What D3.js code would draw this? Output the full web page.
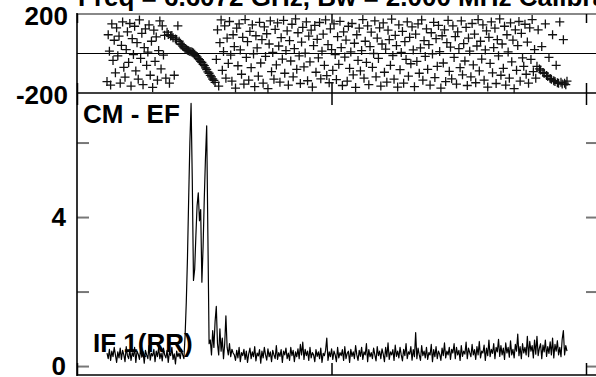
<!DOCTYPE html>
<html><head><meta charset="utf-8">
<script src="https://cdn.jsdelivr.net/npm/d3@7"></script>
<style>
body{margin:0;background:#fff;overflow:hidden}
svg{display:block}
</style>
</head><body>
<svg id="chart" width="596" height="377"></svg>
<script>
// ---------- data ----------
const titleText = "Freq = 6.6072 GHz, Bw = 2.000 MHz  Calibrator";
const panelLabelTop = "CM - EF";
const panelLabelBottom = "IF 1(RR)";
const phaseTicks = [200, -200];
const phaseTickLabels = ["200", "-200"];
const ampTicks = [0, 2, 4, 6];
const ampTickLabels = ["0", "", "4", ""];
const xTicks = [0, 1, 2];
const chanStart = 0.1179;
const chanStep = 0.004719;

const amplitude = [
0.35,0.2,0.45,0.15,0.4,0.25,0.5,0.3,0.1,0.38,
0.22,0.48,0.18,0.42,0.3,0.12,0.52,0.28,0.2,0.44,
0.15,0.36,0.26,0.5,0.1,0.4,0.32,0.18,0.46,0.24,
0.38,0.08,0.42,0.3,0.2,0.55,0.16,0.34,0.27,0.45,
0.12,0.4,0.25,0.5,0.2,0.35,0.14,0.48,0.3,0.22,
0.42,0.1,0.38,0.28,0.5,0.18,0.33,0.06,0.4,0.25,
0.35,0.2,0.45,0.3,0.2,0.8,1.7,2.9,4.5,6.0,
7.05,5.0,2.3,2.6,3.5,4.3,4.65,3.9,4.2,2.25,
3.2,4.5,5.6,6.45,3.5,0.6,0.7,0.3,0.95,0.5,
1.2,1.6,0.6,0.3,1.0,0.4,0.75,0.2,0.6,1.35,
0.5,0.3,0.6,0.25,0.45,0.35,
0.3,0.15,0.42,0.22,0.5,0.12,0.36,0.28,0.45,0.18,0.4,0.1,0.33,0.48,0.2,0.38,0.25,0.52,0.14,0.35,
0.27,0.44,0.08,0.4,0.22,0.5,0.3,0.16,0.46,0.25,0.38,0.12,0.42,0.3,0.2,0.55,0.18,0.36,0.26,0.44,
0.1,0.4,0.3,0.48,0.2,0.35,0.15,0.5,0.28,0.42,0.12,0.38,0.25,0.46,0.2,0.58,0.3,0.64,0.18,0.45,
0.28,0.4,0.15,0.5,0.22,0.36,0.3,0.12,0.44,0.26,0.38,0.2,0.48,0.1,0.34,0.28,0.42,0.75,0.15,0.38,
0.25,0.46,0.18,0.4,0.3,0.12,0.5,0.22,0.36,0.28,0.44,0.15,0.52,0.2,0.34,0.4,0.1,0.45,0.26,0.38,
0.2,0.55,0.3,0.15,0.42,0.26,0.5,0.18,0.38,0.3,0.6,0.12,0.44,0.25,0.36,0.2,0.48,0.3,0.14,0.52,
0.28,0.4,0.2,0.46,0.32,0.12,0.5,0.25,0.62,0.18,0.38,0.3,0.44,0.15,0.56,0.26,0.4,0.22,0.5,0.3,
0.14,0.45,0.28,0.6,0.2,0.38,0.32,0.52,0.16,0.44,0.25,0.9,0.2,0.48,0.3,0.15,0.55,0.28,0.4,0.22,
0.5,0.18,0.36,0.3,0.58,0.12,0.44,0.25,0.52,0.2,0.4,0.32,0.15,0.48,0.28,0.62,0.22,0.4,0.3,0.5,
0.18,0.45,0.35,0.6,0.2,0.5,0.3,0.42,0.15,0.55,0.26,0.4,0.32,0.64,0.2,0.48,0.36,0.25,0.58,0.3,
0.44,0.18,0.52,0.3,0.66,0.22,0.4,0.35,0.56,0.15,0.48,0.28,0.7,0.25,0.45,0.34,0.6,0.2,0.5,0.38,
0.72,0.26,0.55,0.3,0.48,0.18,0.62,0.35,0.5,0.24,0.68,0.3,0.45,0.22,0.58,0.4,0.86,0.28,0.52,0.2,
0.6,0.35,0.5,0.3,0.8,0.25,0.66,0.4,0.55,0.22,0.7,0.32,0.8,0.28,0.48,0.6,0.2,0.56,0.38,0.7,
0.26,0.52,0.34,0.65,0.3,0.75,0.22,0.58,0.4,0.68,0.3,0.5,0.25,0.72,0.95,0.3,0.55,0.4
];

const phase = [
-142,95,12,-160,150,-35,67,-98,130,-12,88,-150,41,160,-70,-120,20,110,-45,152,
-165,75,-5,138,-88,55,-130,170,-25,102,-158,30,125,-60,7,145,-110,62,-172,118,
-40,84,-135,15,165,-78,140,-8,92,-125,
108,96,-150,88,91,80,-110,73,71,140,62,48,45,37,33,24,22,16,14,10,
9,6,2,-4,-11,-17,-26,-31,-40,-45,-55,-61,-73,-81,-93,-100,-111,-118,-129,-136,-146,
-30,120,-165,55,170,-85,10,140,-125,78,-50,162,-8,-140,95,35,-175,128,-62,150,
18,-105,82,-155,172,-20,60,-135,112,-72,145,-2,-168,90,28,-115,158,-48,70,-150,
135,-15,100,-178,48,165,-92,5,-130,122,-58,155,38,-145,80,-28,168,-100,15,115,
-160,65,-38,148,-118,25,175,-80,105,-12,-152,58,132,-68,2,160,-138,88,-42,118,
-170,40,142,-95,72,-22,157,-128,12,98,-60,170,-112,45,-148,125,20,-85,150,-5,
-132,85,-55,163,30,-162,110,-18,68,-140,138,-75,8,152,-108,52,-172,95,-35,128,
-88,15,172,-125,62,-45,140,-158,35,108,-70,0,165,-118,78,-25,130,-165,48,155,
-95,22,-145,118,70,-60,174,-10,-130,92,40,-170,145,-82,5,112,-150,60,-30,160,
-115,82,-52,135,18,-168,98,-40,150,-100,28,170,-135,65,-15,125,-80,45,-160,105,
-2,158,-122,75,-65,142,10,-175,90,-48,120,-142,55,168,-90,32,-128,140,-20,85,
-155,110,25,-72,165,-108,50,-38,132,-162,78,12,-118,152,-58,98,-148,38,172,-88,
62,-28,145,-135,18,115,-170,82,-50,160,-98,30,128,-152,70,-12,175,-110,48,-75,
138,-160,95,8,-125,155,-42,68,-178,120,-85,40,162,-140,102,-22,-65,148,-105,58,
-150,130,-30,172,-92,20,-125,
-65,120,-78,-84,35,-96,-100,150,-111,-117,-20,-126,-131,95,-138,-142,-60,-148,-151,160,
-146,-155,70,-150,-158,-140
];

// ---------- layout ----------
const svg = d3.select("#chart");
const FONT = "'Liberation Sans', Arial, Helvetica, sans-serif";
const fs = 26;
const left = 77, right = 599;
const x = d3.scaleLinear().domain([0, 2]).range([77, 586]);
const yPh = d3.scaleLinear().domain([-200, 200]).range([93, 14]);
const yAmp = d3.scaleLinear().domain([-0.24, 7.33]).range([375, 93]);
const chanX = i => x(chanStart + i * chanStep);

// title (cut at top edge)
svg.append("text").attr("x", 78).attr("y", 6)
  .attr("font-family", FONT).attr("font-weight", "bold").attr("font-size", fs)
  .text(titleText);

// ---- top panel lines ----
svg.append("line").attr("x1", left).attr("x2", right).attr("y1", yPh(200)).attr("y2", yPh(200))
  .attr("stroke", "#888").attr("stroke-width", 2);
svg.append("line").attr("x1", left).attr("x2", right).attr("y1", yPh(0)).attr("y2", yPh(0))
  .attr("stroke", "#000").attr("stroke-width", 1.2);
svg.append("line").attr("x1", left).attr("x2", right).attr("y1", yPh(-200)).attr("y2", yPh(-200))
  .attr("stroke", "#000").attr("stroke-width", 1.6);

// top panel y labels via axis
const phAxis = svg.append("g").attr("transform", `translate(${left},0)`)
  .call(d3.axisLeft(yPh).tickValues(phaseTicks).tickSize(0).tickPadding(9)
    .tickFormat((d, i) => phaseTickLabels[i]));
phAxis.select(".domain").remove();
phAxis.selectAll("text").attr("font-family", FONT).attr("font-weight", "bold")
  .attr("font-size", fs).attr("fill", "#000").attr("dy", "0.42em");

// top panel x ticks
const phXTop = svg.append("g").attr("transform", `translate(0,${yPh(200)})`)
  .call(d3.axisBottom(x).tickValues(xTicks).tickSize(9).tickFormat(""));
phXTop.select(".domain").remove();
phXTop.selectAll("line").attr("stroke", "#000").attr("stroke-width", 1.5);
const phXBot = svg.append("g").attr("transform", `translate(0,${yPh(-200)})`)
  .call(d3.axisTop(x).tickValues(xTicks).tickSize(10).tickFormat(""));
phXBot.select(".domain").remove();
phXBot.selectAll("line").attr("stroke", "#000").attr("stroke-width", 1.5);

// phase points
svg.append("g").selectAll("path").data(phase).join("path")
  .attr("transform", (d, i) => `translate(${chanX(i)},${yPh(d)})`)
  .attr("d", "M-4.5,0H4.5M0,-4.5V4.5")
  .attr("stroke", "#111").attr("stroke-width", 1.3).attr("fill", "none");

// ---- bottom panel ----
svg.append("line").attr("x1", left).attr("x2", right).attr("y1", 375).attr("y2", 375)
  .attr("stroke", "#000").attr("stroke-width", 1.6);

const ampAxisL = svg.append("g").attr("transform", `translate(${left},0)`)
  .call(d3.axisLeft(yAmp).tickValues(ampTicks).tickSize(-12).tickPadding(11)
    .tickFormat((d, i) => ampTickLabels[i]));
ampAxisL.select(".domain").remove();
ampAxisL.selectAll("line").attr("stroke", "#777").attr("stroke-width", 2);
ampAxisL.selectAll("text").attr("font-family", FONT).attr("font-weight", "bold")
  .attr("font-size", fs).attr("fill", "#000").attr("dy", "0.34em");

const ampAxisR = svg.append("g").attr("transform", `translate(${right},0)`)
  .call(d3.axisRight(yAmp).tickValues(ampTicks).tickSize(-13).tickFormat(""));
ampAxisR.select(".domain").remove();
ampAxisR.selectAll("line").attr("stroke", "#777").attr("stroke-width", 2);

const ampXTop = svg.append("g").attr("transform", `translate(0,${yPh(-200)})`)
  .call(d3.axisBottom(x).tickValues(xTicks).tickSize(12).tickFormat(""));
ampXTop.select(".domain").remove();
ampXTop.selectAll("line").attr("stroke", "#000").attr("stroke-width", 1.5);
const ampXBot = svg.append("g").attr("transform", `translate(0,375)`)
  .call(d3.axisTop(x).tickValues(xTicks).tickSize(12).tickFormat(""));
ampXBot.select(".domain").remove();
ampXBot.selectAll("line").attr("stroke", "#000").attr("stroke-width", 1.5);

// frame sides
svg.append("line").attr("x1", left).attr("x2", left).attr("y1", 13).attr("y2", 376)
  .attr("stroke", "#000").attr("stroke-width", 1.6);
svg.append("line").attr("x1", right).attr("x2", right).attr("y1", 13).attr("y2", 376)
  .attr("stroke", "#000").attr("stroke-width", 1.6);

// panel labels
svg.append("text").attr("x", 83).attr("y", 123)
  .attr("font-family", FONT).attr("font-weight", "bold").attr("font-size", fs)
  .text(panelLabelTop);
svg.append("text").attr("x", 93).attr("y", 352)
  .attr("font-family", FONT).attr("font-weight", "bold").attr("font-size", fs)
  .text(panelLabelBottom);

// spectrum line
const line = d3.line().x((d, i) => chanX(i)).y(d => yAmp(d));
svg.append("path").datum(amplitude).attr("d", line)
  .attr("fill", "none").attr("stroke", "#000").attr("stroke-width", 1.2)
  .attr("stroke-linejoin", "round");
</script>
</body></html>
